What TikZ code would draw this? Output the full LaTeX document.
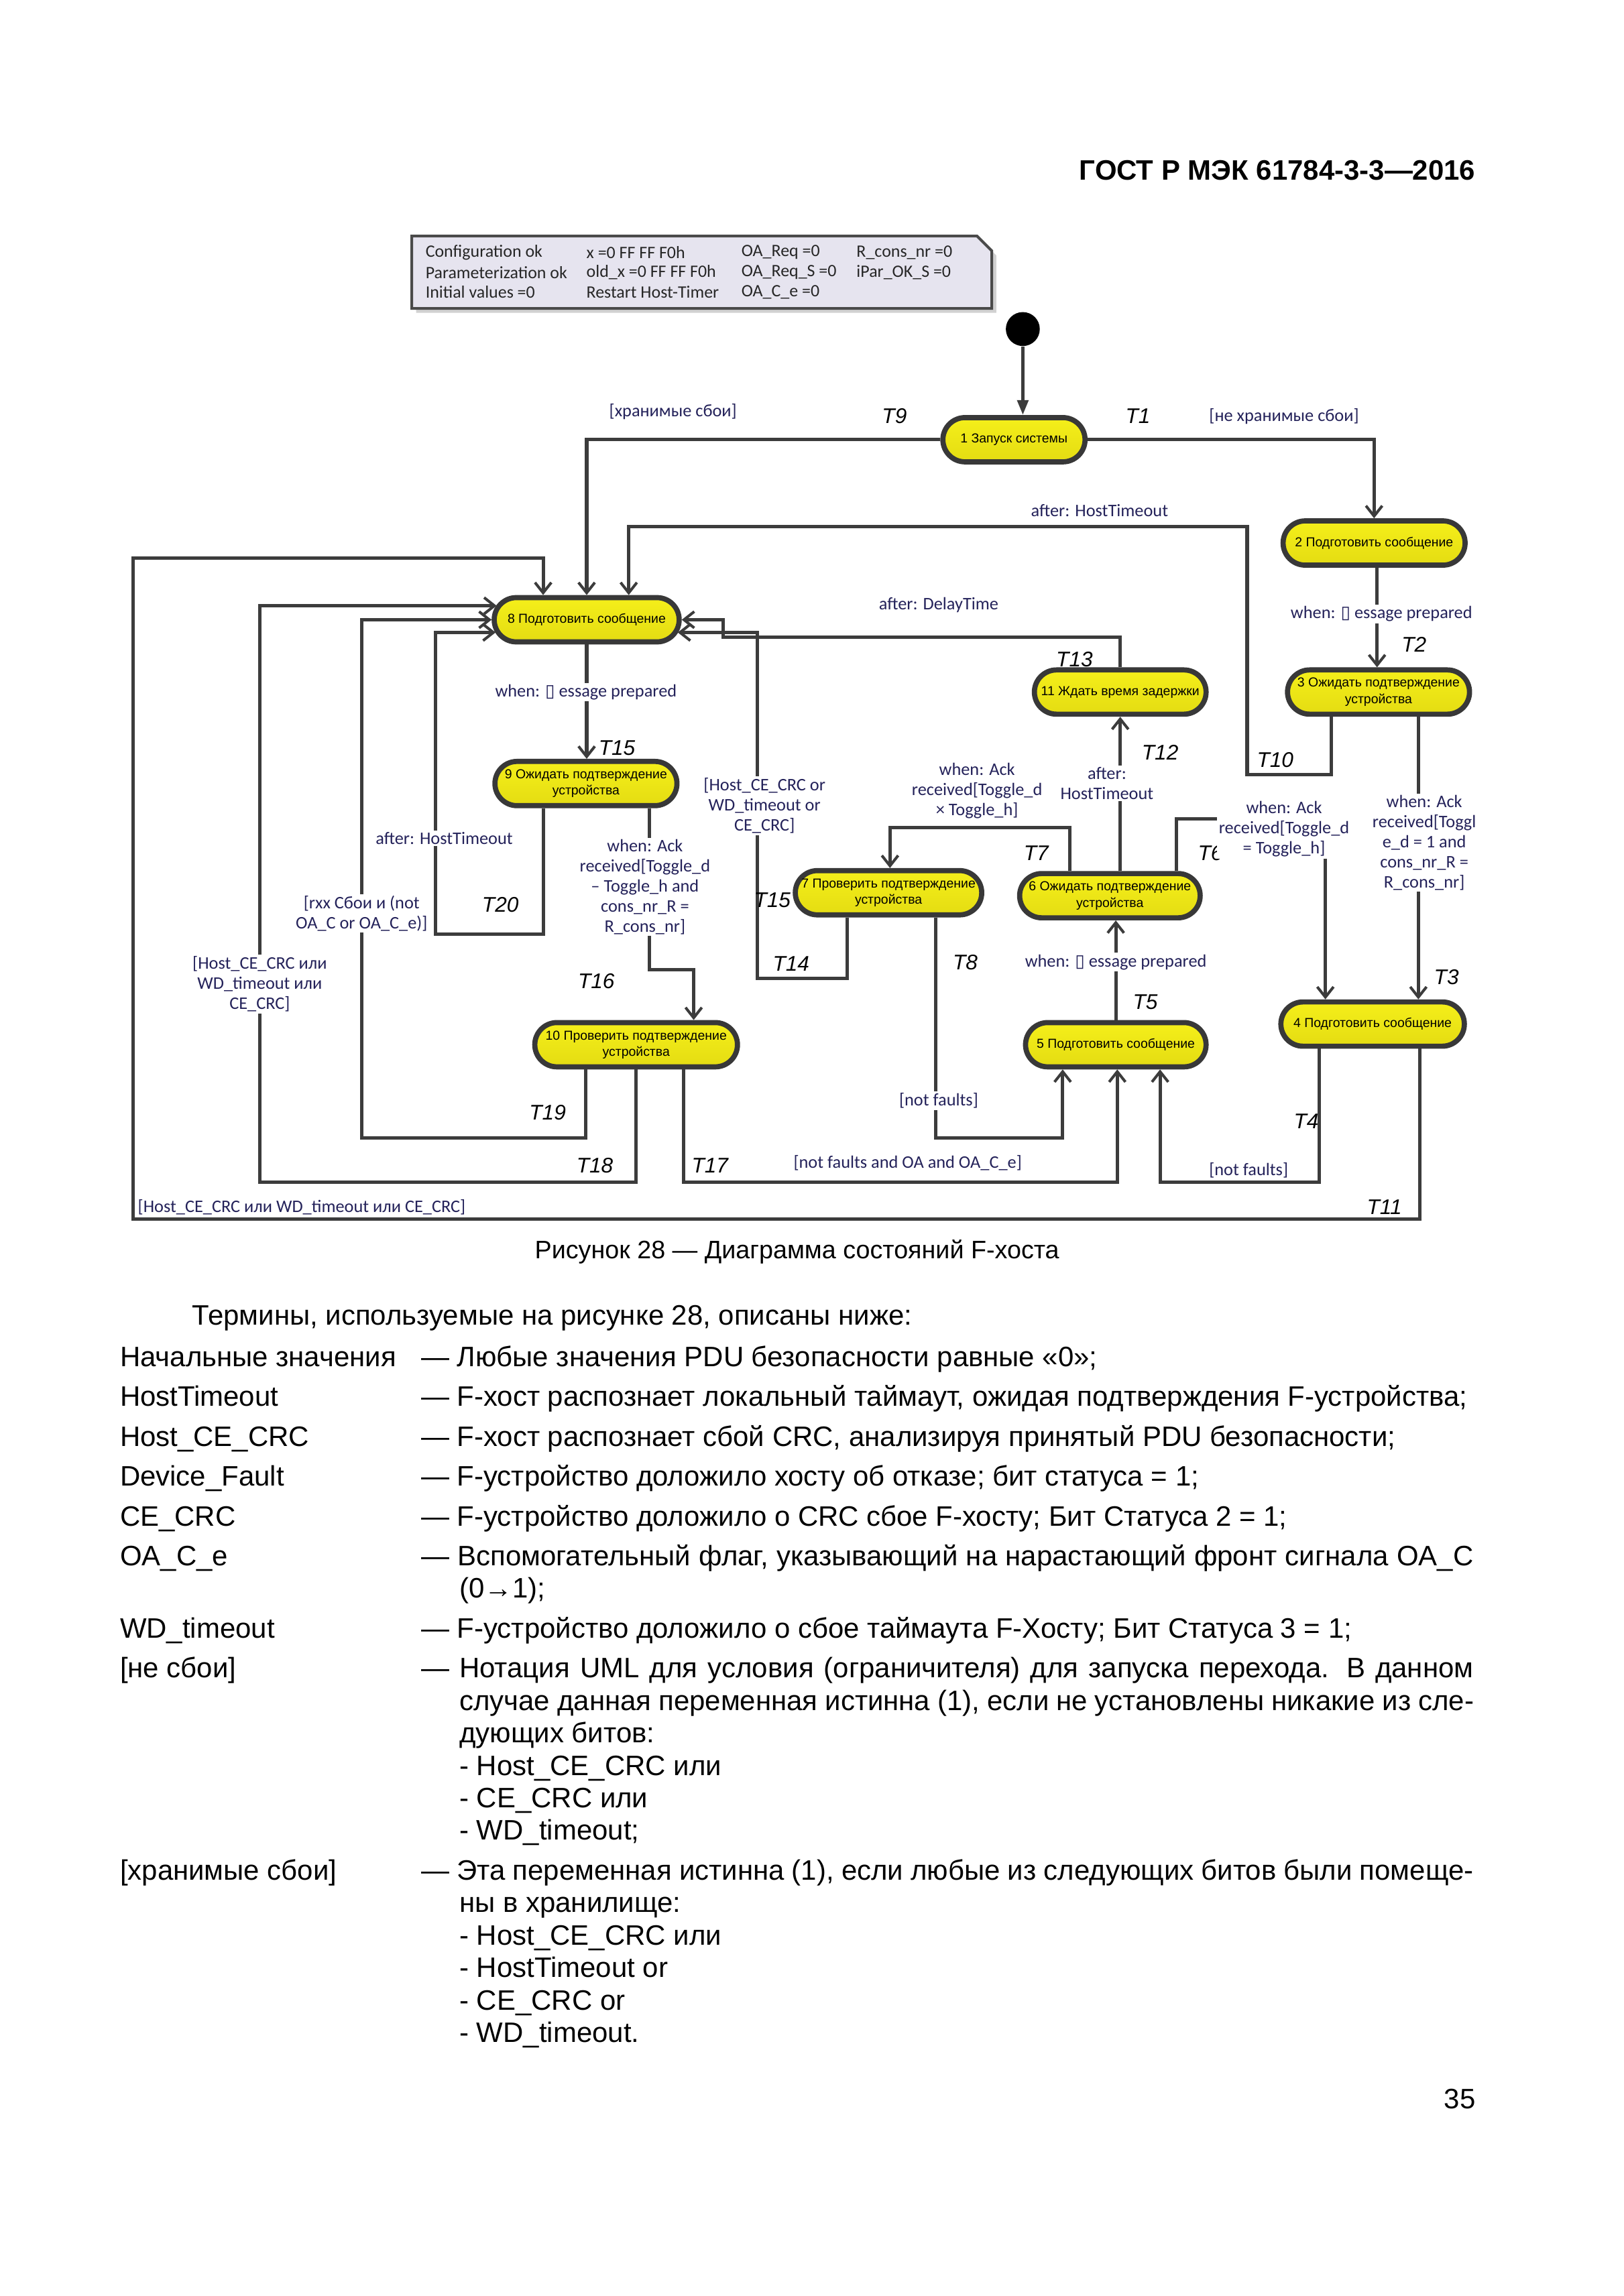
\documentclass[tikz,border=0pt]{standalone}
\usepackage{fontspec}
\setmainfont{Liberation Sans}
\newfontfamily\guardfont{Carlito}
\newfontfamily\glyphfont{DejaVu Sans}
\usetikzlibrary{arrows.meta,shapes.misc,calc}

\definecolor{stateTop}{HTML}{F5EF1A}
\definecolor{stateBottom}{HTML}{E4DC12}
\definecolor{stateEdge}{HTML}{383838}
\definecolor{lineGray}{HTML}{3C3C3C}
\definecolor{guardBlue}{HTML}{24225A}
\definecolor{noteFill}{HTML}{E6E4EF}
\definecolor{noteEdge}{HTML}{4A4A4A}

\newcommand\colorLine{lineGray}
\newcommand\px{0.19091mm}
\newcommand\missingM{{\glyphfont\fontsize{6.5pt}{6.5pt}\selectfont ▯}}

\tikzset{
	state/.style={rounded rectangle, draw=stateEdge, line width=1.9pt,
		top color=stateTop, bottom color=stateBottom,
		minimum height=30*\px, inner xsep=1pt, inner ysep=0pt, align=center,
		font=\fontsize{4.8pt}{6pt}\selectfont},
	trans/.style={draw=\colorLine, line width=1.25pt,
		-{Straight Barb[length=3.8pt,width=6pt,line width=1pt]}},
	guard/.style={fill=white, inner sep=0.6pt, align=center, text=guardBlue,
		font=\guardfont\fontsize{6.5pt}{7.4pt}\selectfont},
	tname/.style={inner sep=0pt, font=\itshape\fontsize{7.8pt}{8pt}\selectfont},
	notetext/.style={anchor=west, inner sep=0pt, text=black!85,
		font=\guardfont\fontsize{6.4pt}{7pt}\selectfont},
	body/.style={anchor=base west, inner sep=0pt, font=\fontsize{10.35pt}{12pt}\selectfont}
}

\begin{document}
\begin{tikzpicture}[x=\px, y=-\px]
	\fill[white] (0,0) rectangle (1100,1556);
	\useasboundingbox (0,0) rectangle (1100,1556);

	\node[anchor=base east, inner sep=0pt, font=\bfseries\fontsize{10.35pt}{12pt}\selectfont]
		(header) at (1000,122) {ГОСТ Р МЭК 61784-3-3—2016};

	% note
	\fill[black!18] (282,163) -- (665,163) -- (675,173) -- (675,212) -- (282,212) -- cycle;
	\draw[fill=noteFill, draw=noteEdge, line width=1pt]
		(279,160) -- (662,160) -- (672,170) -- (672,209) -- (279,209) -- cycle;
	\foreach \col/\row/\txt [count=\k] in {
		288/171/Configuration ok, 288/184.5/Parameterization ok, 288/198/Initial values =0,
		397/171/x =0 FF FF F0h, 397/184.5/old\_x =0 FF FF F0h, 397/198/Restart Host-Timer,
		502/171/OA\_Req =0, 502/184.5/OA\_Req\_S =0, 502/198/OA\_C\_e =0,
		580/171/R\_cons\_nr =0, 580/184.5/iPar\_OK\_S =0}
		\node[notetext] (note\k) at (\col,\row) {\txt};

	% states
	\node[circle, fill=black, minimum size=23*\px, inner sep=0pt] (init) at (693,223) {};
	\node[state, minimum width=100*\px] (s1) at (687,298) {1 Запуск системы};
	\node[state, minimum width=127*\px] (s2) at (931,368) {2 Подготовить сообщение};
	\node[state, minimum width=127*\px] (s3) at (934,469) {3 Ожидать подтверждение\\устройства};
	\node[state, minimum width=128*\px] (s4) at (930,694) {4 Подготовить сообщение};
	\node[state, minimum width=126*\px] (s5) at (756,708) {5 Подготовить сообщение};
	\node[state, minimum width=126*\px] (s6) at (752,607) {6 Ожидать подтверждение\\устройства};
	\node[state, minimum width=130*\px] (s7) at (602,605) {7 Проверить подтверждение\\устройства};
	\node[state, minimum width=129*\px] (s8) at (397.5,420) {8 Подготовить сообщение};
	\node[state, minimum width=127*\px] (s9) at (397,531) {9 Ожидать подтверждение\\устройства};
	\node[state, minimum width=141*\px] (s10) at (431,708) {10 Проверить подтверждение\\устройства};
	\node[state, minimum width=120*\px] (s11) at (759,469) {11 Ждать время задержки};

	% transitions
	\draw[draw=\colorLine, line width=1.25pt, -{Triangle[length=5.5pt,width=4pt]}]
		(init.south) -- (init.south |- s1.north);
	\draw[trans] (s1.east) -| (s2.north);                                  % T1
	\draw[trans] (s2.south -| 933,0) -- (s3.north -| 933,0);               % T2
	\draw[trans] (s3.south -| 961,0) -- (s4.north -| 961,0);               % T3
	\draw[trans] (s4.south -| 894,0) |- (786,801) -- (s5.south -| 786,0);  % T4
	\draw[trans] (s5.north) -- (s5.north |- s6.south);                     % T5
	\draw[trans] (s6.north -| 797,0) |- (898,555) -- (s4.north -| 898,0);  % T6
	\draw[trans] (s6.north -| 725,0) |- (603,561) -- (s7.north -| 603,0);  % T7
	\draw[trans] (s7.south -| 634,0) |- (720,771) -- (s5.south -| 720,0);  % T8
	\draw[trans] (s1.west) -| (s8.north);                                  % T9
	\draw[trans] (s3.south -| 902,0) -- (902,525) -| (845,357) -| (s8.north -| 426,0); % T10
	\draw[trans] (s4.south -| 962,0) -- (962,826) -| (90,378) -| (s8.north -| 368,0);  % T11
	\draw[trans] (s6.north -| s11.south) -- (s11.south);                   % T12
	\draw[trans] (s11.north) |- (490,432) |- (s8.east);                    % T13
	\draw[trans] (s7.south -| 574,0) |- (513,663) |- ($(s8.east)+(-2.7,8.6)$); % T14
	\draw[trans] (s8.south) -- (s8.south |- s9.north);                     % T15
	\draw[trans] (s9.south -| 440,0) |- (470,657) -- (s10.north -| 470,0); % T16
	\draw[trans] (s10.south -| 463,0) |- (757,801) -- (s5.south -| 757,0); % T17
	\draw[trans] (s10.south -| 431,0) |- (176,801) |- ($(s8.west)+(3.4,-9.5)$); % T18
	\draw[trans] (s10.south -| 397,0) |- (245,771) |- (s8.west);           % T19
	\draw[trans] (s9.south -| 368,0) |- (295,633) |- ($(s8.west)+(2.7,8.6)$); % T20

	% transition names
	\foreach \name/\xx/\yy in {T1/771/282, T2/958/437, T3/980/662, T4/885/760, T5/776/679,
		T6/820/578, T7/702/578, T8/654/652, T9/606/282, T10/864/515, T11/938/818,
		T12/786/510, T13/728/447, T14/536/653, T15/418/507, T16/404/665, T17/481/790,
		T18/403/790, T19/371/754, T20/339/613}
		\node[tname] (name\name) at (\xx,\yy) {\name};
	\node[tname, anchor=east] (nameT15b) at (536,610) {T15};

	% guards
	\node[guard] (g1) at (870,282) {[не хранимые сбои]};
	\node[guard] (g9) at (456,279) {[хранимые сбои]};
	\node[guard] (g2) at (936,416) {when: \missingM{} essage prepared};
	\node[guard] (g3) at (965,571) {when: Ack\\received[Toggl\\e\_d = 1 and\\cons\_nr\_R =\\R\_cons\_nr]};
	\node[guard] (g4) at (846,793) {[not faults]};
	\node[guard] (g5) at (756,652) {when: \missingM{} essage prepared};
	\node[guard] (g6) at (870,562) {when: Ack\\received[Toggle\_d\\= Toggle\_h]};
	\node[guard] (g7) at (662,536) {when: Ack\\received[Toggle\_d\\× Toggle\_h]};
	\node[guard] (g8) at (636,746) {[not faults]};
	\node[guard] (g10) at (745,346) {after: HostTimeout};
	\node[guard, anchor=west] (g11) at (92,818) {[Host\_CE\_CRC или WD\_timeout или CE\_CRC]};
	\node[guard] (g12) at (750,531) {after:\\HostTimeout};
	\node[guard] (g13) at (636,410) {after: DelayTime};
	\node[guard] (g14) at (518,546) {[Host\_CE\_CRC or\\WD\_timeout or\\CE\_CRC]};
	\node[guard] (g15) at (397,469) {when: \missingM{} essage prepared};
	\node[guard] (g16) at (437,601) {when: Ack\\received[Toggle\_d\\– Toggle\_h and\\cons\_nr\_R =\\R\_cons\_nr]};
	\node[guard] (g17) at (615,788) {[not faults and OA and OA\_C\_e]};
	\node[guard] (g18) at (176,667) {[Host\_CE\_CRC или\\WD\_timeout или\\CE\_CRC]};
	\node[guard] (g19) at (245,619) {[rxx Сбои и (not\\OA\_C or OA\_C\_e)]};
	\node[guard] (g20) at (301,568) {after: HostTimeout};

	% caption and terms
	\node[anchor=base, inner sep=0pt, font=\fontsize{9.3pt}{11pt}\selectfont]
		(caption) at (540,853) {Рисунок 28 — Диаграмма состояний F-хоста};
	\node[body] (intro) at (130,898) {Термины, используемые на рисунке 28, описаны ниже:};
	\foreach \yy/\term/\desc in {
		926/{Начальные значения}/{— Любые значения PDU безопасности равные «0»;},
		953/{HostTimeout}/{— F-хост распознает локальный таймаут, ожидая подтверждения F-устройства;},
		980/{Host\_CE\_CRC}/{— F-хост распознает сбой CRC, анализируя принятый PDU безопасности;},
		1007/{Device\_Fault}/{— F-устройство доложило хосту об отказе; бит статуса = 1;},
		1034/{CE\_CRC}/{— F-устройство доложило о CRC сбое F-хосту; Бит Статуса 2 = 1;},
		1061/{OA\_C\_e}/{\makebox[136.1mm][s]{— Вспомогательный флаг, указывающий на нарастающий фронт сигнала OA\_C}},
		1110/{WD\_timeout}/{— F-устройство доложило о сбое таймаута F-Хосту; Бит Статуса 3 = 1;},
		1137/{[не сбои]}/{\makebox[136.1mm][s]{— Нотация UML для условия (ограничителя) для запуска перехода. В данном}},
		1274/{[хранимые сбои]}/{\makebox[136.1mm][s]{— Эта переменная истинна (1), если любые из следующих битов были помеще-}}}{
		\node[body] (term\yy) at (81,\yy) {\term};
		\node[body] (desc\yy) at (285,\yy) {\desc};
	}
	\foreach \yy/\txt in {1083/{(0→1);},
		1159/{\makebox[131.2mm][s]{случае данная переменная истинна (1), если не установлены никакие из сле-}},
		1181/{дующих битов:}, 1203/{- Host\_CE\_CRC или}, 1225/{- CE\_CRC или}, 1247/{- WD\_timeout;},
		1296/{ны в хранилище:}, 1318/{- Host\_CE\_CRC или}, 1340/{- HostTimeout or},
		1362/{- CE\_CRC or}, 1384/{- WD\_timeout.}}
		\node[body] (line\yy) at (311,\yy) {\txt};
	\node[anchor=base east, inner sep=0pt, font=\fontsize{10.35pt}{12pt}\selectfont]
		(page) at (1000,1429) {35};
\end{tikzpicture}
\end{document}
